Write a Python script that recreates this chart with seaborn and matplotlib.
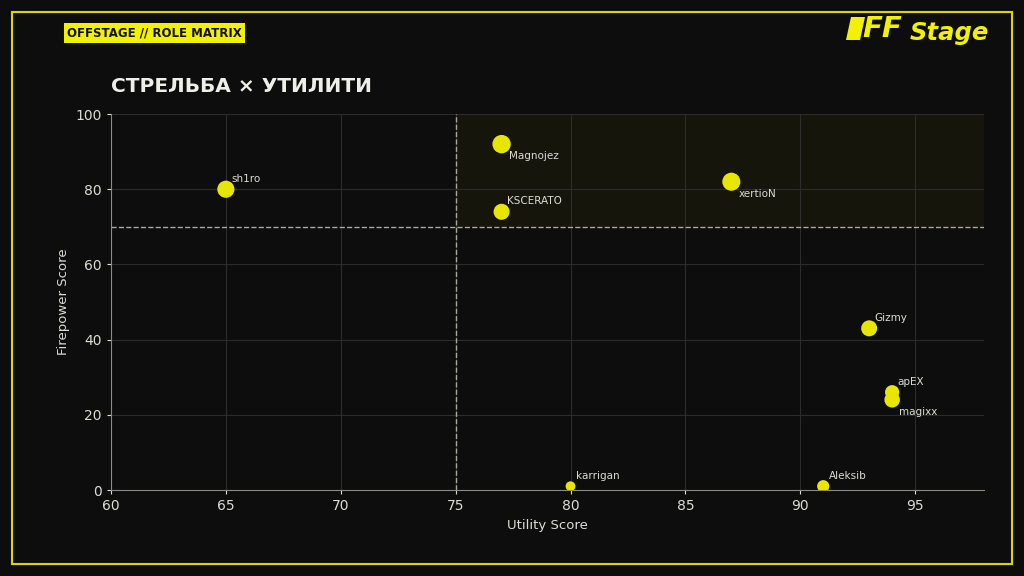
import numpy as np
import pandas as pd
import matplotlib.pyplot as plt
import matplotlib.patches as mpatches
import seaborn as sns

# player data
players = ['sh1ro', 'Magnojez', 'KSCERATO', 'xertioN', 'Gizmy',
           'apEX', 'magixx', 'karrigan', 'Aleksib']
utility = [65, 77, 77, 87, 93, 94, 94, 80, 91]
firepower = [80, 92, 74, 82, 43, 26, 24, 1, 1]
impact = [1.22, 1.30, 1.15, 1.28, 1.15, 1.05, 1.12, 0.85, 0.95]
label_pos = ['up', 'down', 'up', 'down', 'up', 'up', 'down', 'up', 'up']

x_ticks = [60, 65, 70, 75, 80, 85, 90, 95]
y_ticks = [0, 20, 40, 60, 80, 100]
x_cut, y_cut = 75, 70

df = pd.DataFrame({'player': players, 'utility': utility,
                   'firepower': firepower, 'impact': impact})

BG = '#0d0d0d'
YEL = '#e8e600'
TXT = '#dcdcd6'

sns.set_theme(style='dark')
plt.rcParams['font.family'] = ['DejaVu Sans']

fig = plt.figure(figsize=(10.24, 5.76), dpi=100, facecolor=BG)
ax = fig.add_axes([0.1084, 0.1493, 0.8526, 0.6527])
ax.set_facecolor(BG)

# highlight quadrant
ax.add_patch(mpatches.Rectangle((x_cut, y_cut), 98 - x_cut, 100 - y_cut,
                                facecolor=YEL, alpha=0.04, edgecolor='none', zorder=0))

sns.scatterplot(data=df, x='utility', y='firepower', size='impact',
                sizes=(50, 175), color=YEL, edgecolor='none', legend=False,
                ax=ax, zorder=3)

for p, xv, yv, pos in zip(players, utility, firepower, label_pos):
    if pos == 'up':
        ax.annotate(p, (xv, yv), xytext=(4, 4), textcoords='offset points',
                    color=TXT, fontsize=7.5, ha='left', va='bottom')
    else:
        ax.annotate(p, (xv, yv), xytext=(5, -5), textcoords='offset points',
                    color=TXT, fontsize=7.5, ha='left', va='top')

ax.axvline(x_cut, color='#a8a8a0', ls='--', lw=1, zorder=2)
ax.axhline(y_cut, color='#a8a8a0', ls='--', lw=1, zorder=2)

ax.set_xlim(60, 98)
ax.set_ylim(0, 100)
ax.set_xticks(x_ticks)
ax.set_yticks(y_ticks)
ax.grid(True, color='#2c2c2a', lw=0.8)
ax.set_axisbelow(True)
for side in ['top', 'right']:
    ax.spines[side].set_visible(False)
for side in ['left', 'bottom']:
    ax.spines[side].set_visible(True)
    ax.spines[side].set_color('#8a8a80')
    ax.spines[side].set_linewidth(0.8)
ax.tick_params(colors=TXT, labelsize=10, length=3, width=0.8, bottom=True, left=True)
ax.set_xlabel('Utility Score', color=TXT, fontsize=9.5)
ax.set_ylabel('Firepower Score', color=TXT, fontsize=9.5)

# title and badge
fig.text(0.1084, 0.85, 'СТРЕЛЬБА × УТИЛИТИ', color='#efefe9', fontsize=14.5,
         fontweight='bold', ha='left', va='center')
fig.text(0.0655, 0.943, 'OFFSTAGE // ROLE MATRIX', color='#111111', fontsize=8.5,
         fontweight='bold', ha='left', va='center',
         bbox=dict(boxstyle='square,pad=0.3', facecolor='#f2f200', edgecolor='none'))

# logo
fig.patches.append(mpatches.Polygon([[846 / 1024, 1 - 40 / 576], [860 / 1024, 1 - 40 / 576],
                                     [865 / 1024, 1 - 17 / 576], [851 / 1024, 1 - 17 / 576]],
                                    closed=True, transform=fig.transFigure,
                                    facecolor='#f2f200', edgecolor='none'))
fig.text(862 / 1024, 1 - 29 / 576, 'FF', color='#f2f200', fontsize=21,
         fontweight='heavy', style='italic', ha='left', va='center')
fig.text(910 / 1024, 1 - 33 / 576, 'Stage', color='#f2f200', fontsize=17.5,
         style='italic', fontweight='bold', ha='left', va='center')

# border
fig.patches.append(mpatches.Rectangle((12 / 1024, 12 / 576), 1000 / 1024, 552 / 576,
                                      transform=fig.transFigure, fill=False,
                                      edgecolor='#d8d800', linewidth=1.5))

fig.savefig('out.png', dpi=100, facecolor=BG)
